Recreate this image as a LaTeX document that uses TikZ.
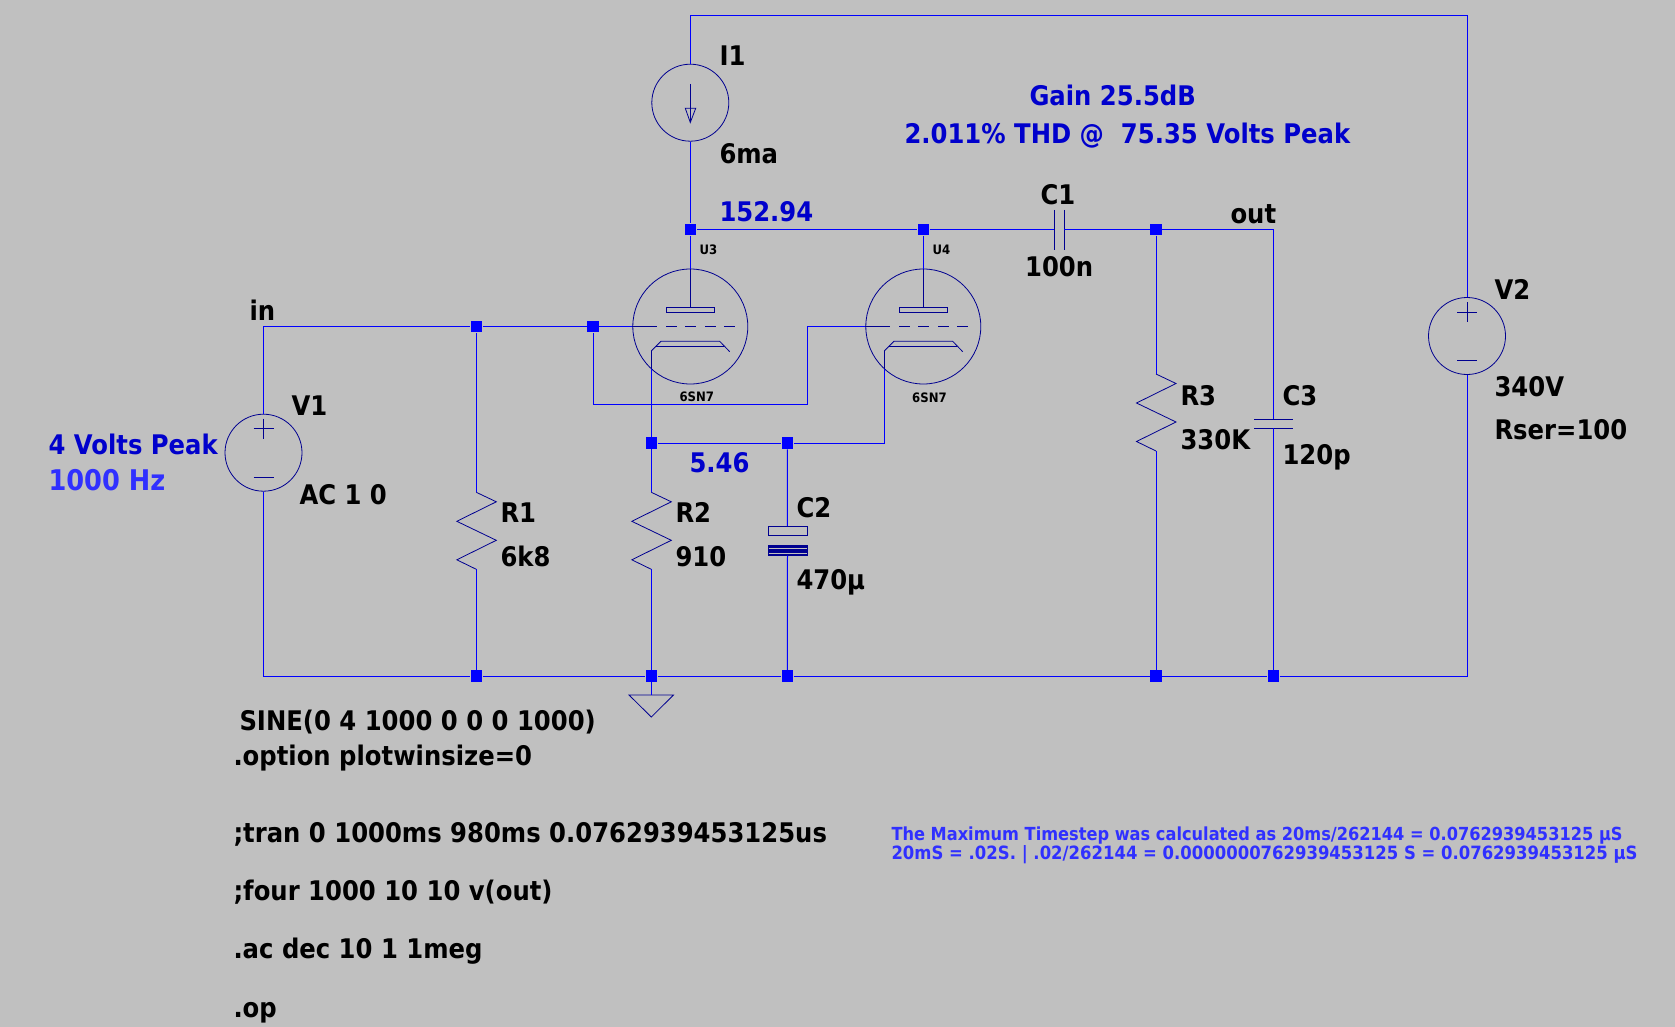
\documentclass[tikz,border=0pt]{standalone}
\usepackage{fontspec}
\setmainfont{DejaVu Sans}[FakeStretch=0.9]
\usetikzlibrary{positioning}
\definecolor{sheet}{HTML}{C0C0C0}
\definecolor{wire}{HTML}{0000FF}
\definecolor{symbol}{HTML}{000090}
\definecolor{note}{HTML}{0000CC}
\definecolor{hint}{HTML}{3030FF}

\begin{document}
\begin{tikzpicture}[x=1pt, y=-1pt, line width=1pt]

  \tikzstyle{junction}=[rectangle, fill=wire, inner sep=0pt, minimum size=11.5pt]
  \tikzstyle{part}=[draw=symbol, line width=.8pt]
  \tikzstyle{source}=[part, circle, inner sep=0pt, minimum size=77pt]
  \tikzstyle{tube}=[part, circle, inner sep=0pt, minimum size=115pt]
  \tikzstyle{plate}=[part, rectangle, inner sep=0pt, minimum width=48pt, minimum height=5pt]
  \tikzstyle{capbox}=[part, rectangle, inner sep=0pt, minimum width=39pt]
  \tikzstyle{lab}=[anchor=base west, inner sep=0pt, yshift=-.7pt, font=\bfseries\fontsize{27}{27}\selectfont, text=black]
  \tikzstyle{smalllab}=[lab, font=\bfseries\fontsize{13}{13}\selectfont]
  \tikzstyle{val}=[lab, text=note]
  \tikzstyle{valb}=[lab, text=hint, font=\bfseries\fontsize{28.5}{28.5}\selectfont]
  \tikzstyle{stamp}=[lab, text=hint, yshift=.7pt, font=\bfseries\fontsize{18}{18}\selectfont]

  \useasboundingbox [fill=sheet] (0,0) rectangle (1675,1027);

  % junctions
  \foreach \name/\x/\y in {top/690.3/229.3, mid/923.3/229.3, outj/1156/229.3,
      inj/476.3/326.5, gridj/593/326.5, cat/651.3/443, catb/787.3/443,
      gnda/476.3/676, gndb/651.3/676, gndc/787.3/676, gndd/1156/676, gnde/1273.3/676} {
    \node [junction] (\name) at (\x,\y) {};
  }

  % corners
  \coordinate (topl) at (690.3,16);
  \coordinate (topr) at (1467,16);
  \coordinate (botr) at (1467,676);
  \coordinate (botl) at (263.5,676);
  \coordinate (in) at (263.5,326.5);
  \coordinate (outc) at (1273.3,229.3);
  \coordinate (loopa) at (593,404);
  \coordinate (loopb) at (807.5,404);
  \coordinate (loopc) at (807.5,326.5);
  \coordinate (gnd) at (651.3,695);

  % sources
  \node [source] (I1) at (690.3,102.7) {};
  \node [source] (V1) at (263.5,452.7) {};
  \node [source] (V2) at (1467,336) {};

  \draw [part] (690.3,84) -- (690.3,122.5);
  \draw [part] (685.3,108.3) -- (695.7,108.3) -- (690.3,122.5) -- cycle;
  \foreach \x/\y in {263.5/452.7, 1467/336} {
    \draw [part] (\x-10,\y-24) -- (\x+10,\y-24);
    \draw [part] (\x,\y-34) -- (\x,\y-14);
    \draw [part] (\x-10,\y+24.5) -- (\x+10,\y+24.5);
  }

  % tubes
  \foreach \name/\x in {U3/690.3, U4/923.3} {
    \node [tube] (\name) at (\x,326.5) {};
    \node [plate] (\name-P) at (\x,309.8) {};
    \draw [part] (\name.west) -- (\x-33.3,326.5);
    \foreach \a/\b in {-24/-13, -5/6, 15/25.5, 34/45} {
      \draw [part] (\x+\a,326.5) -- (\x+\b,326.5);
    }
    \draw [part] (\x-39,351) -- (\x-29.3,341.3) -- (\x+29.4,341.3) -- (\x+39.4,351.7);
    \draw [part] (\x-34,346.3) -- (\x+34,346.3);
    \draw [part] (\name-P) -- (\name.north);
    \draw [part] (\x-39,351) -- (\x-39,369) coordinate (\name-K);
  }

  % resistors
  \foreach \name/\x/\y in {R1/476.3/492.3, R2/651.3/492.3, R3/1156/374} {
    \coordinate (\name-a) at (\x,\y);
    \draw [part] (\name-a) -- (\x+20,\y+9.5) -- (\x-19.5,\y+29) -- (\x+20,\y+48) -- (\x-19.5,\y+67.5) -- (\x,\y+77) coordinate (\name-b);
  }

  % capacitors
  \node [capbox, minimum height=9pt] (C2-a) at (787.5,531) {};
  \node [capbox, fill=symbol, minimum height=10pt] (C2-b) at (787.5,550.3) {};
  \draw [sheet, line width=.8pt] (768.5,548.3) -- (807,548.3) (768.5,553.7) -- (807,553.7);

  \coordinate (C1-a) at (1054.3,229.3);
  \coordinate (C1-b) at (1064.3,229.3);
  \draw [part] (1054.3,210) -- (1054.3,250);
  \draw [part] (1064.3,210) -- (1064.3,250);

  \coordinate (C3-a) at (1273.3,419.3);
  \coordinate (C3-b) at (1273.3,428.3);
  \draw [part] (1254,419.3) -- (1292.7,419.3);
  \draw [part] (1254,428.3) -- (1292.7,428.3);

  % ground
  \draw [part] (629,695) -- (673.5,695) -- (651.3,717) -- cycle;

  % wires
  \draw [wire] (V2) -- (topr) -- (topl) -- (I1);
  \draw [wire] (I1) -- (top);
  \draw [wire] (top) -- (U3.north);
  \draw [wire] (top) -- (mid);
  \draw [wire] (mid) -- (U4.north);
  \draw [wire] (mid) -- (C1-a);
  \draw [wire] (C1-b) -- (outj);
  \draw [wire] (outj) -- (outc) -- (C3-a);
  \draw [wire] (C3-b) -- (gnde);
  \draw [wire] (outj) -- (R3-a);
  \draw [wire] (R3-b) -- (gndd);
  \draw [wire] (V1) -- (in) -- (inj);
  \draw [wire] (inj) -- (gridj);
  \draw [wire] (gridj) -- (U3.west);
  \draw [wire] (gridj) -- (loopa) -- (loopb) -- (loopc) -- (U4.west);
  \draw [wire] (inj) -- (R1-a);
  \draw [wire] (R1-b) -- (gnda);
  \draw [wire] (U3-K) -- (cat);
  \draw [wire] (cat) -- (R2-a);
  \draw [wire] (R2-b) -- (gndb);
  \draw [wire] (cat) -- (catb);
  \draw [wire] (catb) -| (U4-K);
  \draw [wire] (catb) -- (C2-a);
  \draw [wire] (C2-b) -- (gndc);
  \draw [wire] (V1) -- (botl) -- (gnda);
  \draw [wire] (gnda) -- (gndb);
  \draw [wire] (gndb) -- (gndc);
  \draw [wire] (gndc) -- (gndd);
  \draw [wire] (gndd) -- (gnde);
  \draw [wire] (gnde) -- (botr) -- (V2);
  \draw [wire] (gndb) -- (gnd);

  % part labels
  \node [lab] (I1-n) at (719,65) {I1};
  \node [lab] (I1-v) at (719,162.7) {6ma};
  \node [lab] (V1-n) at (291,414.7) {V1};
  \node [lab] (V1-v) at (299,504) {AC 1 0};
  \node [lab] (V2-n) at (1494,299) {V2};
  \node [lab] (V2-v) at (1494,396) {340V};
  \node [lab] (V2-r) at (1494,439) {Rser=100};
  \node [lab] (R1-n) at (500,522) {R1};
  \node [lab] (R1-v) at (500,566) {6k8};
  \node [lab] (R2-n) at (675,522) {R2};
  \node [lab] (R2-v) at (675,566) {910};
  \node [lab] (R3-n) at (1180,405) {R3};
  \node [lab] (R3-v) at (1180,449) {330K};
  \node [lab] (C1-n) at (1040,204) {C1};
  \node [lab] (C1-v) at (1024.6,275.6) {100n};
  \node [lab] (C2-n) at (796,516.7) {C2};
  \node [lab] (C2-v) at (796,589) {470µ};
  \node [lab] (C3-n) at (1282,405) {C3};
  \node [lab] (C3-v) at (1282,464) {120p};
  \node [lab] (in-n) at (249,320) {in};
  \node [lab] (out-n) at (1230,223) {out};
  \node [smalllab] (U3-n) at (699,254) {U3};
  \node [smalllab] (U4-n) at (932,254) {U4};
  \node [smalllab] (U3-v) at (679,401) {6SN7};
  \node [smalllab] (U4-v) at (911.7,402) {6SN7};

  % notes
  \node [val] (gain) at (1029,105) {Gain 25.5dB};
  \node [val] (thd) at (904,143) {2.011\% THD @\ \ 75.35 Volts Peak};
  \node [val] (vtop) at (719,220.7) {152.94};
  \node [val] (vcat) at (689,472) {5.46};
  \node [val] (peak) at (48,454) {4 Volts Peak};
  \node [valb] (freq) at (48,490) {1000 Hz};

  % directives
  \node [lab] (sine) at (239,730) {SINE(0 4 1000 0 0 0 1000)};
  \node [lab] (opt) at (233,765) {.option plotwinsize=0};
  \node [lab] (tran) at (233,842) {;tran 0 1000ms 980ms 0.0762939453125us};
  \node [lab] (four) at (233,900) {;four 1000 10 10 v(out)};
  \node [lab] (ac) at (233,958) {.ac dec 10 1 1meg};
  \node [lab] (op) at (233,1017) {.op};
  \node [stamp] (stepa) at (891,840) {The Maximum Timestep was calculated as 20ms/262144 = 0.0762939453125 µS};
  \node [stamp, font=\bfseries\fontsize{18.3}{18.3}\selectfont] (stepb) at (891,859) {20mS = .02S. | .02/262144 = 0.0000000762939453125 S = 0.0762939453125 µS};

\end{tikzpicture}
\end{document}
